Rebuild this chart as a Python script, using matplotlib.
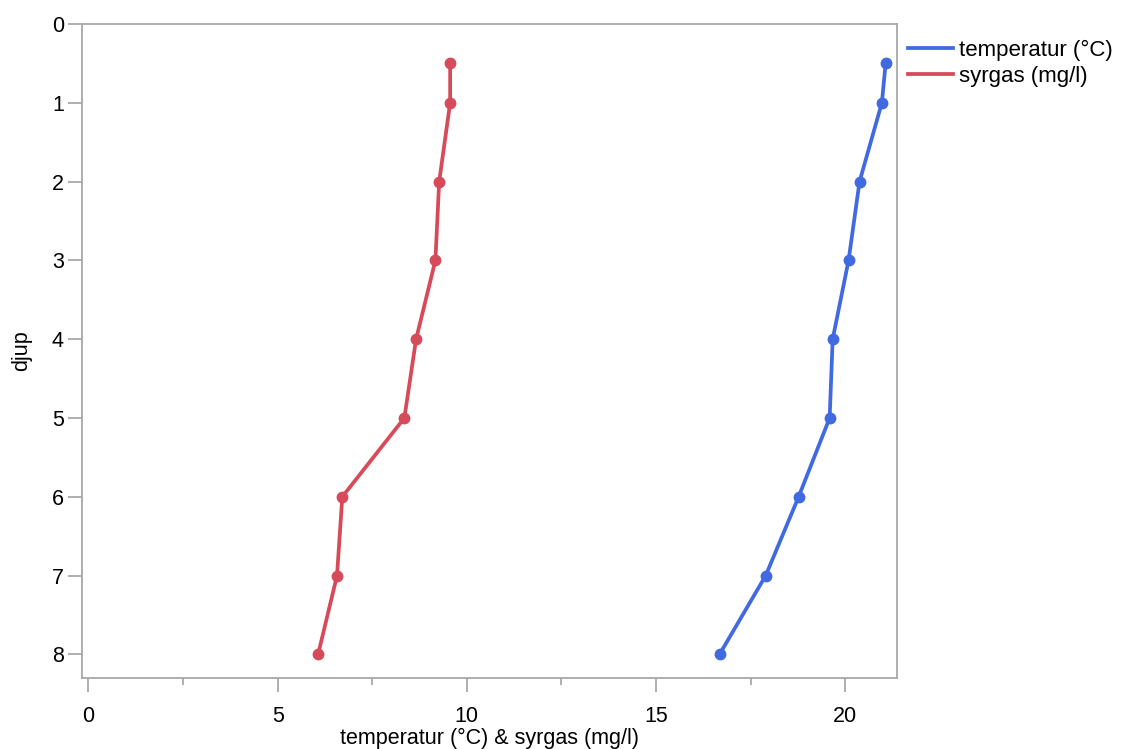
"""
Depth profile: temperature and oxygen versus depth
"""
import matplotlib.pyplot as plt
from matplotlib.ticker import MultipleLocator

plt.rcParams['font.family'] = ['Liberation Sans', 'DejaVu Sans']

depth = [0.5, 1, 2, 3, 4, 5, 6, 7, 8]
temperatur = [21.07, 20.97, 20.38, 20.09, 19.67, 19.59, 18.77, 17.90, 16.68]
syrgas = [9.56, 9.56, 9.27, 9.17, 8.66, 8.35, 6.71, 6.57, 6.07]

BLUE = '#4169E1'
RED = '#D64A5A'
GREY = '#A8A8A8'

fig = plt.figure(figsize=(11.27, 7.49), dpi=100)
ax = fig.add_axes([82 / 1127, 1 - 678 / 749, (897 - 82) / 1127, (678 - 24) / 749])

ax.plot(temperatur, depth, color=BLUE, lw=2.7, marker='o', ms=7.5,
        label='temperatur (°C)')
ax.plot(syrgas, depth, color=RED, lw=2.7, marker='o', ms=7.5,
        label='syrgas (mg/l)')

ax.set_xlim(-0.17, 21.37)
ax.set_ylim(8.30, 0)
ax.xaxis.set_major_locator(MultipleLocator(5))
ax.xaxis.set_minor_locator(MultipleLocator(2.5))
ax.yaxis.set_major_locator(MultipleLocator(1))

for s in ax.spines.values():
    s.set_color(GREY)
    s.set_linewidth(1.3)
ax.tick_params(axis='both', which='major', length=10, width=1.3, color=GREY,
               labelsize=15.5, labelcolor='black')
ax.tick_params(axis='x', which='major', pad=10)
ax.tick_params(axis='y', which='major', pad=3)
ax.tick_params(axis='x', which='minor', length=5, width=1.3, color=GREY)

ax.set_xlabel('temperatur (°C) & syrgas (mg/l)', fontsize=15.5, labelpad=1)
ax.set_ylabel('djup', fontsize=15.5, labelpad=14)

leg = ax.legend(loc='upper left', bbox_to_anchor=(1.0, 1 - 5 / 654),
                frameon=False, fontsize=16, handlelength=2.0,
                handletextpad=0.3, labelspacing=0.2, borderaxespad=0.1)
for h in leg.legend_handles:
    h.set_marker('')

fig.savefig('out.png', dpi=100)
